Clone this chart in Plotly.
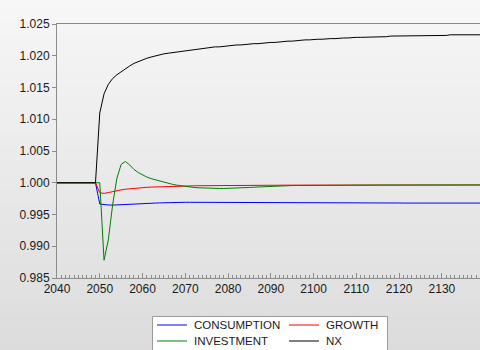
import plotly.graph_objects as go

# Annual observations, 2040-2139
years = list(range(2040, 2140))

consumption = [
    1.0, 1.0, 1.0, 1.0, 1.0, 1.0, 1.0, 1.0, 1.0, 1.0,                      # 2040-2049
    0.99665, 0.99655, 0.99650, 0.99648, 0.99650, 0.99653, 0.99657, 0.99661, 0.99665, 0.99668,  # 2050-2059
    0.99671, 0.99674, 0.99677, 0.99680, 0.99683, 0.99686, 0.99688, 0.99690, 0.99691, 0.99692,  # 2060-2069
    0.99692, 0.99692, 0.99692, 0.99692, 0.99692, 0.99692, 0.99691, 0.99691, 0.99691, 0.99691,  # 2070-2079
    0.99690, 0.99690, 0.99690, 0.99690, 0.99689, 0.99689, 0.99689, 0.99688, 0.99688, 0.99688,  # 2080-2089
    0.99687, 0.99687, 0.99686, 0.99686, 0.99686, 0.99685, 0.99685, 0.99685, 0.99685, 0.99684,  # 2090-2099
    0.99684, 0.99684, 0.99684, 0.99683, 0.99683, 0.99683, 0.99683, 0.99683, 0.99682, 0.99682,  # 2100-2109
    0.99682, 0.99682, 0.99682, 0.99682, 0.99681, 0.99681, 0.99681, 0.99681, 0.99681, 0.99681,  # 2110-2119
    0.99681, 0.99680, 0.99680, 0.99680, 0.99680, 0.99680, 0.99680, 0.99680, 0.99680, 0.99680,  # 2120-2129
    0.99680, 0.99680, 0.99680, 0.99680, 0.99680, 0.99680, 0.99680, 0.99680, 0.99680, 0.99680,  # 2130-2139
]

growth = [
    1.0, 1.0, 1.0, 1.0, 1.0, 1.0, 1.0, 1.0, 1.0, 1.0,
    0.99843, 0.99832, 0.99845, 0.99862, 0.99876, 0.99888, 0.99898, 0.99906, 0.99913, 0.99919,
    0.99924, 0.99928, 0.99932, 0.99935, 0.99938, 0.99941, 0.99943, 0.99945, 0.99947, 0.99949,
    0.99950, 0.99951, 0.99952, 0.99953, 0.99954, 0.99955, 0.99956, 0.99957, 0.99957, 0.99958,
    0.99958, 0.99959, 0.99959, 0.99959, 0.99960, 0.99960, 0.99960, 0.99960, 0.99961, 0.99961,
    0.99961, 0.99961, 0.99961, 0.99962, 0.99962, 0.99962, 0.99962, 0.99962, 0.99962, 0.99963,
    0.99963, 0.99963, 0.99963, 0.99963, 0.99963, 0.99963, 0.99963, 0.99964, 0.99964, 0.99964,
    0.99964, 0.99964, 0.99964, 0.99964, 0.99964, 0.99964, 0.99964, 0.99964, 0.99965, 0.99965,
    0.99965, 0.99965, 0.99965, 0.99965, 0.99965, 0.99965, 0.99965, 0.99965, 0.99965, 0.99965,
    0.99965, 0.99965, 0.99965, 0.99965, 0.99965, 0.99965, 0.99965, 0.99965, 0.99965, 0.99965,
]

investment = [
    1.0, 1.0, 1.0, 1.0, 1.0, 1.0, 1.0, 1.0, 1.0, 1.0,
    1.0, 0.98780, 0.99100, 0.99650, 1.00070, 1.00290, 1.00335, 1.00280, 1.00210, 1.00160,
    1.00120, 1.00090, 1.00065, 1.00045, 1.00025, 1.00005, 0.99990, 0.99975, 0.99962, 0.99950,
    0.99940, 0.99932, 0.99926, 0.99921, 0.99917, 0.99914, 0.99912, 0.99911, 0.99910, 0.99910,
    0.99911, 0.99913, 0.99916, 0.99919, 0.99922, 0.99926, 0.99930, 0.99934, 0.99938, 0.99942,
    0.99945, 0.99948, 0.99951, 0.99953, 0.99955, 0.99956, 0.99957, 0.99958, 0.99959, 0.99960,
    0.99960, 0.99961, 0.99961, 0.99961, 0.99962, 0.99962, 0.99962, 0.99962, 0.99963, 0.99963,
    0.99963, 0.99963, 0.99963, 0.99964, 0.99964, 0.99964, 0.99964, 0.99964, 0.99964, 0.99964,
    0.99964, 0.99964, 0.99965, 0.99965, 0.99965, 0.99965, 0.99965, 0.99965, 0.99965, 0.99965,
    0.99965, 0.99965, 0.99965, 0.99965, 0.99965, 0.99965, 0.99965, 0.99965, 0.99965, 0.99965,
]

nx = [
    1.0, 1.0, 1.0, 1.0, 1.0, 1.0, 1.0, 1.0, 1.0, 1.0,
    1.0110, 1.0140, 1.0155, 1.0164, 1.0170, 1.0175, 1.0180, 1.0184, 1.0188, 1.0191,
    1.0193, 1.0196, 1.0198, 1.0200, 1.0202, 1.0203, 1.0204, 1.0205, 1.0206, 1.0207,
    1.0208, 1.0209, 1.0210, 1.0211, 1.0212, 1.0212, 1.0213, 1.0214, 1.0214, 1.0215,
    1.0216, 1.0216, 1.0217, 1.0217, 1.0218, 1.0218, 1.0219, 1.0219, 1.0220, 1.0220,
    1.0221, 1.0221, 1.0222, 1.0222, 1.0223, 1.0223, 1.0224, 1.0224, 1.0225, 1.0225,
    1.0226, 1.0226, 1.0226, 1.0227, 1.0227, 1.0227, 1.0228, 1.0228, 1.0228, 1.0229,
    1.0229, 1.0229, 1.0229, 1.0230, 1.0230, 1.0230, 1.0230, 1.0230, 1.0231, 1.0231,
    1.0231, 1.0231, 1.0231, 1.0231, 1.0232, 1.0232, 1.0232, 1.0232, 1.0232, 1.0232,
    1.0232, 1.0232, 1.0233, 1.0233, 1.0233, 1.0233, 1.0233, 1.0233, 1.0233, 1.0233,
]

series_names = ["CONSUMPTION", "GROWTH", "INVESTMENT", "NX"]
series_values = [consumption, growth, investment, nx]
series_colors = ["#0000ff", "#ff0000", "#008000", "#000000"]

W, H = 480, 350
M_L, M_R, M_T, M_B = 57, 0, 24, 72
pw, ph = W - M_L - M_R, H - M_T - M_B

def px_x(px):
    return (px - M_L) / pw

def px_y(px):
    return (H - M_B - px) / ph

fig = go.Figure()
for name, vals, color in zip(series_names, series_values, series_colors):
    fig.add_trace(go.Scatter(
        x=years, y=vals, mode="lines", name=name,
        line=dict(color=color, width=1), showlegend=False,
    ))

# Vertical grey gradient behind the plot area
n_strips = 50
shapes = []
for i in range(n_strips):
    y0_px = H * i / n_strips
    y1_px = H * (i + 1) / n_strips + 1
    t = (y0_px + y1_px) / 2 / H
    g = round(247 - 27 * t)
    shapes.append(dict(
        type="rect", xref="paper", yref="paper", layer="below",
        x0=px_x(0), x1=px_x(W + 2), y0=px_y(y1_px), y1=px_y(y0_px),
        fillcolor=f"rgb({g},{g},{g})", line=dict(width=0),
    ))

# Legend: framed box, two columns x two rows
shapes.append(dict(
    type="rect", xref="paper", yref="paper", layer="above",
    x0=px_x(152.5), x1=px_x(387.5), y0=px_y(360), y1=px_y(316.5),
    fillcolor="#ffffff", line=dict(color="#9a9a9a", width=1),
))
legend_font = dict(family="Liberation Sans, Arial, sans-serif", size=11.5, color="#1a1a1a")
col_x = [157, 289]
row_y = [325, 341]
annotations = []
for k, (name, color) in enumerate(zip(series_names, series_colors)):
    cx = col_x[k % 2]
    ry = row_y[k // 2]
    shapes.append(dict(
        type="line", xref="paper", yref="paper", layer="above",
        x0=px_x(cx), x1=px_x(cx + 30), y0=px_y(ry), y1=px_y(ry),
        line=dict(color=color, width=1),
    ))
    annotations.append(dict(
        xref="paper", yref="paper", x=px_x(cx + 35), y=px_y(ry),
        xanchor="left", yanchor="middle", text=name, showarrow=False,
        font=legend_font,
    ))

axis_font = dict(family="Liberation Sans, Arial, sans-serif", size=12, color="#1a1a1a")

fig.update_layout(
    width=W, height=H,
    margin=dict(l=M_L, r=M_R, t=M_T, b=M_B, autoexpand=False),
    paper_bgcolor="#efefef",
    plot_bgcolor="#ffffff",
    shapes=shapes,
    annotations=annotations,
    showlegend=False,
    xaxis=dict(
        range=[2040, 2138.9],
        tickmode="array",
        tickvals=list(range(2040, 2140, 10)),
        ticktext=[str(v) for v in range(2040, 2140, 10)],
        ticks="inside", ticklen=5, tickcolor="#8c8c8c",
        minor=dict(dtick=1, tick0=2040, ticks="inside", ticklen=3, tickcolor="#8c8c8c"),
        showline=True, linecolor="#8c8c8c", linewidth=1, mirror=True,
        showgrid=False, zeroline=False,
        tickfont=axis_font,
    ),
    yaxis=dict(
        range=[0.985, 1.025],
        tickmode="array",
        tickvals=[0.985, 0.990, 0.995, 1.000, 1.005, 1.010, 1.015, 1.020, 1.025],
        tickformat=".3f",
        ticks="outside", ticklen=4, tickcolor="#8c8c8c",
        showline=True, linecolor="#8c8c8c", linewidth=1,
        showgrid=False, zeroline=False,
        tickfont=axis_font,
    ),
)

fig.write_html("out.html")
